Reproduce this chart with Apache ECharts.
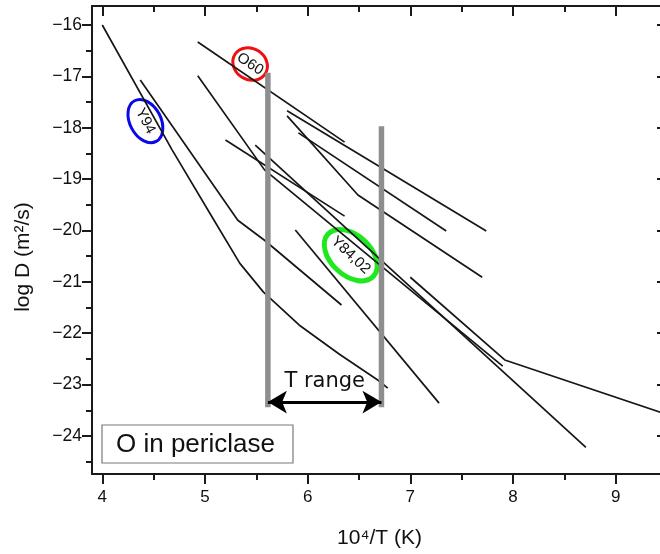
<!DOCTYPE html>
<html><head><meta charset="utf-8">
<script src="https://cdn.jsdelivr.net/npm/echarts@6/dist/echarts.min.js"></script>
<style>html,body{margin:0;padding:0;background:#fff}#c{width:660px;height:554px}</style>
</head><body><div id="c"></div>
<script>
// ---- axes ----
const xMajorTicks = [4, 5, 6, 7, 8, 9];
const xMinorTicks = [4.5, 5.5, 6.5, 7.5, 8.5];
const yMajorTicks = [-16, -17, -18, -19, -20, -21, -22, -23, -24];
const yMinorTicks = [-16.5, -17.5, -18.5, -19.5, -20.5, -21.5, -22.5, -23.5, -24.5];
const xRange = [3.9, 9.5];
const yRange = [-24.74, -15.63];

// ---- diffusion lines (x = 10^4/T, y = log D) ----
const y94X = [4.00, 4.68, 5.10, 5.34, 5.57, 5.93, 6.31, 6.69, 6.78];
const y94Y = [-16.00, -18.43, -19.84, -20.64, -21.20, -21.86, -22.41, -22.92, -23.07];
const lineBX = [4.37, 5.32, 5.58, 6.33];
const lineBY = [-17.07, -19.80, -20.19, -21.45];
const y84X = [4.93, 5.58, 7.90];
const y84Y = [-16.99, -18.82, -22.64];
const lineDX = [5.20, 6.36];
const lineDY = [-18.24, -19.72];
const lineEX = [5.49, 8.71];
const lineEY = [-18.34, -24.22];
const lineFX = [5.88, 7.28];
const lineFY = [-19.99, -23.36];
const lineGX = [7.00, 7.92, 9.50];
const lineGY = [-20.91, -22.52, -23.58];
const o60X = [4.93, 6.36];
const o60Y = [-16.33, -18.28];
const lineHX = [5.80, 7.74];
const lineHY = [-17.67, -20.01];
const lineIX = [5.91, 7.35];
const lineIY = [-18.10, -20.01];
const lineJX = [5.80, 6.49, 7.70];
const lineJY = [-17.77, -19.31, -20.91];

// ---- T range markers ----
const rangeX = [5.613, 6.719];
const rangeTop = [-16.93, -17.97];
const rangeBottom = -23.44;
const arrowY = -23.34;
const rangeLabel = 'T range';
const rangeLabelY = -22.95;

// ---- circled labels ----
const noteText = ['O60', 'Y94', 'Y84,02'];
const noteX = [5.44, 4.42, 6.42];
const noteY = [-16.76, -17.87, -20.48];

const boxText = 'O in periclase';

const curves = [
  ['Y94', y94X, y94Y], ['B', lineBX, lineBY], ['Y84,02', y84X, y84Y],
  ['D', lineDX, lineDY], ['E', lineEX, lineEY], ['F', lineFX, lineFY],
  ['G', lineGX, lineGY], ['O60', o60X, o60Y], ['H', lineHX, lineHY],
  ['I', lineIX, lineIY], ['J', lineJX, lineJY]
];

const FONT = '"Liberation Sans", Arial, sans-serif';
const chart = echarts.init(document.getElementById('c'));
const minus = v => String(v).replace('-', '\u2212');

function xAx(pos, ticks, len, inside, label, extra) {
  return Object.assign({
    type: 'value', position: pos, min: xRange[0], max: xRange[1],
    axisLine: { show: true, onZero: false, lineStyle: { color: '#1a1a1a', width: 2 } },
    axisTick: { show: true, inside: inside, length: len, customValues: ticks, lineStyle: { color: '#1a1a1a', width: 2 } },
    axisLabel: label ? { show: true, customValues: ticks, margin: 15, fontSize: 17, fontFamily: FONT, color: '#111' } : { show: false },
    splitLine: { show: false }
  }, extra || {});
}
function yAx(pos, ticks, len, inside, label, extra) {
  return Object.assign({
    type: 'value', position: pos, min: yRange[0], max: yRange[1],
    axisLine: { show: true, onZero: false, lineStyle: { color: '#1a1a1a', width: 2 } },
    axisTick: { show: true, inside: inside, length: len, customValues: ticks, lineStyle: { color: '#1a1a1a', width: 2 } },
    axisLabel: label ? { show: true, customValues: ticks, margin: 10, fontSize: 17.5, fontFamily: FONT, color: '#111', formatter: minus } : { show: false },
    splitLine: { show: false }
  }, extra || {});
}

const series = curves.map(c => ({
  name: c[0], type: 'line', xAxisIndex: 0, yAxisIndex: 0,
  data: c[1].map((v, i) => [v, c[2][i]]),
  symbol: 'none', showSymbol: false, silent: true, z: 2,
  lineStyle: { color: '#161616', width: 1.7 }
}));
rangeX.forEach((x, i) => series.push({
  name: 'range' + i, type: 'line', xAxisIndex: 0, yAxisIndex: 0,
  data: [[x, rangeBottom], [x, rangeTop[i]]],
  symbol: 'none', showSymbol: false, silent: true, z: 4,
  lineStyle: { color: '#8e8e8e', width: 5.5, cap: 'butt' }
}));
series.push({
  name: 'arrow', type: 'line', xAxisIndex: 0, yAxisIndex: 0, data: [], z: 3,
  markLine: {
    silent: true, symbol: ['arrow', 'arrow'], symbolSize: [17, 19],
    label: { show: false }, emphasis: { disabled: true },
    lineStyle: { color: '#000', width: 3, type: 'solid' },
    data: [[{ coord: [rangeX[0], arrowY] }, { coord: [rangeX[1], arrowY] }]]
  }
});

chart.setOption({
  animation: false,
  backgroundColor: '#fff',
  grid: { left: 92, width: 575, top: 6, height: 468, containLabel: false, outerBoundsMode: 'none' },
  xAxis: [
    xAx('bottom', xMajorTicks, 10, false, true, {
      name: '10\u2074/T (K)', nameLocation: 'middle', nameGap: 54,
      nameTextStyle: { fontSize: 21, fontFamily: FONT, color: '#111' }
    }),
    xAx('bottom', xMinorTicks, 6, false, false),
    xAx('top', xMajorTicks, 10, true, false),
    xAx('top', xMinorTicks, 6, true, false)
  ],
  yAxis: [
    yAx('left', yMajorTicks, 10, false, true, {
      name: 'log D (m\u00b2/s)', nameLocation: 'middle', nameGap: 58,
      nameTextStyle: { fontSize: 21, fontFamily: FONT, color: '#111', padding: [0, 34, 0, 0] }
    }),
    yAx('left', yMinorTicks, 6, false, false),
    yAx('right', yMajorTicks, 10, true, false),
    yAx('right', yMinorTicks, 6, true, false)
  ],
  series: series
});

// annotations positioned from data coordinates
const noteStyle = [
  { color: '#ee1111', rx: 18, ry: 15.5, rot: -33, lw: 3, fs: 15 },
  { color: '#0a0ae8', rx: 23, ry: 15.5, rot: -62, lw: 3, fs: 15 },
  { color: '#1ee81e', rx: 31, ry: 20, rot: -43, lw: 5, fs: 15 }
];
const graphics = noteText.map((t, i) => {
  const p = chart.convertToPixel({ xAxisIndex: 0, yAxisIndex: 0 }, [noteX[i], noteY[i]]);
  const s = noteStyle[i];
  return {
    type: 'group', x: p[0], y: p[1], rotation: s.rot * Math.PI / 180, z: 10, silent: true,
    children: [
      { type: 'ellipse', shape: { cx: 0, cy: 0, rx: s.rx, ry: s.ry },
        style: { fill: 'none', stroke: s.color, lineWidth: s.lw } },
      { type: 'text', x: 0, y: 0,
        style: { text: t, fill: '#111', font: s.fs + 'px ' + FONT,
          align: 'center', verticalAlign: 'middle', textAlign: 'center', textVerticalAlign: 'middle' } }
    ]
  };
});
const tp = chart.convertToPixel({ xAxisIndex: 0, yAxisIndex: 0 }, [(rangeX[0] + rangeX[1]) / 2, rangeLabelY]);
graphics.push({
  type: 'text', x: tp[0], y: tp[1], z: 10, silent: true,
  style: { text: rangeLabel, fill: '#111', font: '21px "DejaVu Sans", sans-serif',
    align: 'center', verticalAlign: 'middle', textAlign: 'center', textVerticalAlign: 'middle' }
});
graphics.push({
  type: 'rect', x: 102, y: 425, z: 10, silent: true,
  shape: { x: 0, y: 0, width: 191, height: 38 },
  style: { fill: '#fff', stroke: '#7a7a7a', lineWidth: 1.2 }
});
graphics.push({
  type: 'text', x: 116, y: 445, z: 11, silent: true,
  style: { text: boxText, fill: '#111', font: '26px ' + FONT,
    align: 'left', verticalAlign: 'middle', textAlign: 'left', textVerticalAlign: 'middle' }
});
chart.setOption({ graphic: graphics });
</script>
</body></html>
